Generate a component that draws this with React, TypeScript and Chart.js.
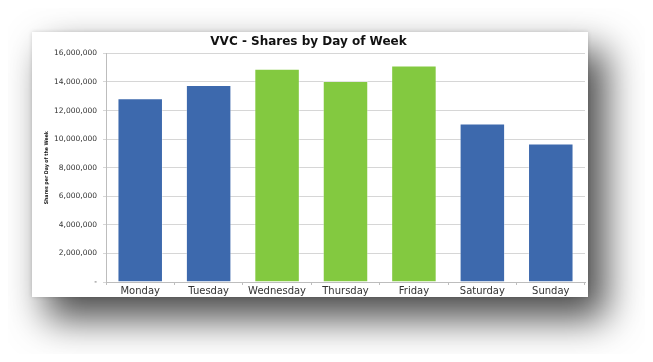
import React, { useEffect, useRef } from "react";
import { Chart, registerables } from "chart.js";

Chart.register(...registerables);

const categories = ["Monday", "Tuesday", "Wednesday", "Thursday", "Friday", "Saturday", "Sunday"];
const shares = [12860000, 13790000, 14930000, 14070000, 15160000, 11100000, 9700000];
const barColors = ["#3d69ad", "#3d69ad", "#83c940", "#83c940", "#83c940", "#3d69ad", "#3d69ad"];
const titleText = "VVC - Shares by Day of Week";
const yAxisTitle = "Shares per Day of the Week";
const yMin = 0;
const yMax = 16000000;
const yStep = 2000000;

export default function App() {
  const canvasRef = useRef<HTMLCanvasElement | null>(null);

  useEffect(() => {
    const canvas = canvasRef.current;
    if (!canvas) return;
    const chart = new Chart(canvas, {
      type: "bar",
      data: {
        labels: categories,
        datasets: [
          {
            data: shares,
            backgroundColor: barColors,
            borderColor: "rgba(255,255,255,0.35)",
            borderWidth: 1,
            categoryPercentage: 1,
            barPercentage: 0.665,
          },
        ],
      },
      options: {
        animation: false,
        responsive: false,
        maintainAspectRatio: false,
        layout: { padding: { left: 0, right: 3, top: 0, bottom: 0 } },
        plugins: {
          legend: { display: false },
          tooltip: { enabled: false },
          title: {
            display: true,
            text: titleText,
            color: "#111111",
            font: { family: "'DejaVu Sans', sans-serif", size: 12, weight: "bold" },
            padding: { top: 3, bottom: 4 },
          },
        },
        scales: {
          x: {
            grid: {
              offset: true,
              drawOnChartArea: false,
              drawTicks: true,
              tickLength: 3,
              color: "#bdbdbd",
            },
            border: { display: true, color: "#bdbdbd" },
            ticks: {
              color: "#333333",
              padding: 0,
              font: { family: "'DejaVu Sans', sans-serif", size: 10 },
              maxRotation: 0,
            },
          },
          y: {
            min: yMin,
            max: yMax,
            afterFit: (scale: any) => {
              scale.width = 74;
            },
            grid: {
              color: "#d6d6d6",
              tickLength: 3,
              drawTicks: true,
            },
            border: { display: true, color: "#bdbdbd" },
            ticks: {
              stepSize: yStep,
              padding: 6,
              color: "#333333",
              font: { family: "'DejaVu Sans', sans-serif", size: 7.5 },
              callback: (v: any) => (Number(v) === 0 ? "-" : Number(v).toLocaleString("en-US")),
            },
            title: {
              display: true,
              text: yAxisTitle,
              color: "#111111",
              font: { family: "'DejaVu Sans Condensed', 'DejaVu Sans', sans-serif", size: 5.2, weight: "bold" },
              padding: { top: 12, bottom: 0 },
            },
          },
        },
      },
    });
    return () => chart.destroy();
  }, []);

  return (
    <div style={{ position: "relative", width: 637, height: 346 }}>
      <div
        style={{
          position: "absolute",
          left: 24,
          top: 24,
          width: 556,
          height: 265,
          background: "#ffffff",
          boxShadow: "16px 20px 36px 2px rgba(0,0,0,0.7), 0 0 4px rgba(0,0,0,0.15)",
        }}
      >
        <canvas ref={canvasRef} width={556} height={265} style={{ display: "block" }} />
      </div>
    </div>
  );
}
